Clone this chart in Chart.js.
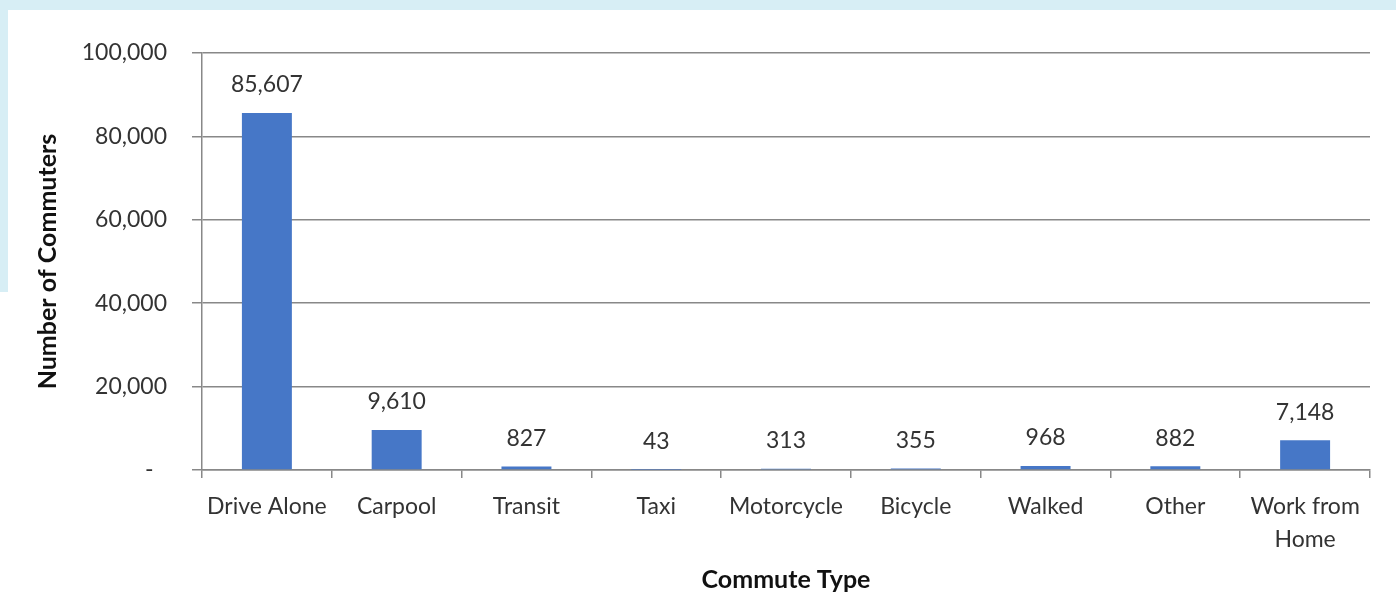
<!DOCTYPE html>
<html>
<head>
<meta charset="utf-8">
<title>Commute Type</title>
<script src="https://cdn.jsdelivr.net/npm/chart.js@4/dist/chart.umd.min.js"></script>
<style>
  html, body { margin: 0; padding: 0; background: #ffffff; }
  #wrap { width: 1396px; height: 597px; }
</style>
</head>
<body>
<div id="wrap"><canvas id="chart" width="1396" height="597"></canvas></div>
<script>
// Commuters by mode of travel
const categories = ['Drive Alone', 'Carpool', 'Transit', 'Taxi', 'Motorcycle', 'Bicycle', 'Walked', 'Other', ['Work from', 'Home']];
const commuters = [85607, 9610, 827, 43, 313, 355, 968, 882, 7148];
const yTicks = [0, 20000, 40000, 60000, 80000, 100000];

const FONT = 'Lato, "Open Sans", "DejaVu Sans", sans-serif';
const TEXT = '#333333';
const GRID = '#888888';

const fmt = v => v.toLocaleString('en-US');

// page frame: white sheet with a pale blue border along the top and left
const framePlugin = {
  id: 'frame',
  beforeDraw(chart) {
    const { ctx, width, height } = chart;
    ctx.save();
    ctx.fillStyle = '#ffffff';
    ctx.fillRect(0, 0, width, height);
    ctx.fillStyle = '#d7eef5';
    ctx.fillRect(0, 0, width, 10);
    ctx.fillRect(0, 0, 8, 292);
    ctx.restore();
  }
};

// value labels above each bar
const valueLabels = {
  id: 'valueLabels',
  afterDatasetsDraw(chart) {
    const { ctx } = chart;
    const meta = chart.getDatasetMeta(0);
    ctx.save();
    ctx.font = '23px ' + FONT;
    ctx.fillStyle = TEXT;
    ctx.textAlign = 'center';
    ctx.textBaseline = 'middle';
    meta.data.forEach((bar, i) => {
      ctx.fillText(fmt(chart.data.datasets[0].data[i]), bar.x, bar.y - 28);
    });
    ctx.restore();
  }
};

new Chart(document.getElementById('chart'), {
  type: 'bar',
  data: {
    labels: categories,
    datasets: [{
      data: commuters,
      backgroundColor: '#4677c7',
      borderWidth: 0,
      categoryPercentage: 1,
      barPercentage: 0.385
    }]
  },
  options: {
    responsive: false,
    animation: false,
    devicePixelRatio: 1,
    layout: { padding: { top: 53, right: 26, left: 0, bottom: 0 } },
    plugins: {
      legend: { display: false },
      tooltip: { enabled: false }
    },
    scales: {
      x: {
        grid: {
          display: true,
          drawOnChartArea: false,
          drawTicks: true,
          tickLength: 8,
          color: GRID,
          lineWidth: 1.5
        },
        border: { display: true, color: GRID, width: 1.5 },
        ticks: {
          color: TEXT,
          font: { family: FONT, size: 23, lineHeight: 1.45 },
          padding: 12,
          maxRotation: 0,
          autoSkip: false
        },
        title: {
          display: true,
          text: 'Commute Type',
          color: '#111111',
          font: { family: FONT, size: 25, weight: 'bold', lineHeight: 1.2 },
          padding: { top: 0, bottom: 2 }
        },
        afterFit(scale) { scale.height = 127; }
      },
      y: {
        min: 0,
        max: 100000,
        afterBuildTicks(scale) { scale.ticks = yTicks.map(v => ({ value: v })); },
        grid: {
          color: GRID,
          lineWidth: 1.5,
          drawTicks: true,
          tickLength: 10
        },
        border: { display: true, color: GRID, width: 1.5 },
        ticks: {
          color: TEXT,
          font: { family: FONT, size: 23 },
          padding: 25,
          callback: v => (v === 0 ? '-\u2007' : fmt(v))
        },
        title: {
          display: true,
          text: 'Number of Commuters',
          color: '#111111',
          font: { family: FONT, size: 25, weight: 'bold', lineHeight: 1.2 },
          padding: { top: 33, bottom: 0 }
        },
        afterFit(scale) { scale.width = 202; }
      }
    }
  },
  plugins: [framePlugin, valueLabels]
});
</script>
</body>
</html>
